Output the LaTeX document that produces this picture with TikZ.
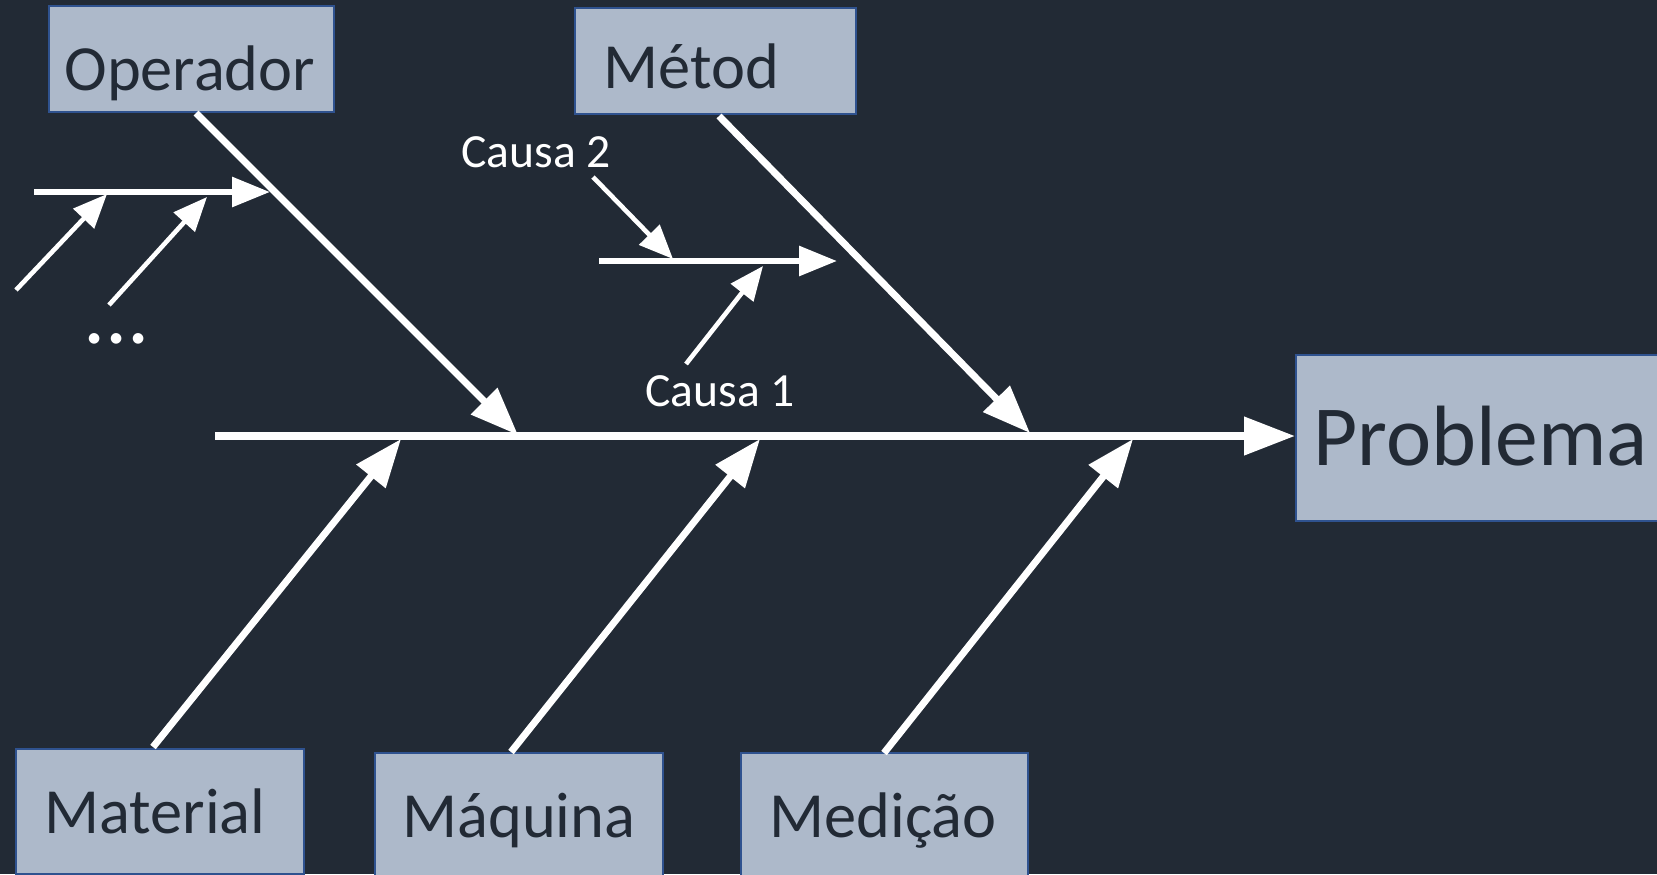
\documentclass[tikz,border=0pt]{standalone}
\usepackage{fontspec}
\setmainfont{Carlito}
\usetikzlibrary{arrows.meta}
\definecolor{bgc}{HTML}{222A35}
\definecolor{boxfill}{HTML}{ADB9CA}
\definecolor{boxline}{HTML}{2F528F}
\definecolor{txtc}{HTML}{222A35}
\tikzset{
  catbox/.style={draw=boxline, fill=boxfill, line width=1pt, inner sep=0pt, anchor=north west},
  cattext/.style={inner sep=0pt, anchor=base west, text=txtc, font=\fontsize{32.2}{38}\selectfont},
  probtext/.style={inner sep=0pt, anchor=base west, text=txtc, font=\fontsize{42.8}{50}\selectfont},
  causetext/.style={inner sep=0pt, anchor=base west, text=white, font=\fontsize{23.8}{28}\selectfont},
  spinearr/.style={white, line width=3.75pt, -{Triangle[length=25.5pt,width=18.5pt]}},
  mainarr/.style={white, line width=3.5pt, -{Triangle[length=24pt,width=18pt]}},
  subarr/.style={white, line width=3pt, -{Triangle[length=19pt,width=14.5pt]}},
  causearr/.style={white, line width=2.3pt, -{Triangle[length=17pt,width=14pt]}}
}
\begin{document}
\begin{tikzpicture}[x=0.5pt,y=-0.5pt]
\useasboundingbox (0,0) rectangle (1657,874);
\clip (0,0) rectangle (1657,874);
\fill[bgc] (0,0) rectangle (1657,874);

% boxes
\node[catbox, minimum width=142.5pt, minimum height=53pt] (op) at (48,5) {};
\node[catbox, minimum width=140.5pt, minimum height=53pt] (me) at (574,7) {};
\node[catbox, minimum width=202.5pt, minimum height=83pt] (pb) at (1295,354) {};
\node[catbox, minimum width=144pt, minimum height=62.5pt] (ma) at (15,748) {};
\node[catbox, minimum width=144pt, minimum height=74pt] (mq) at (374,752) {};
\node[catbox, minimum width=143.5pt, minimum height=74pt] (md) at (740,752) {};

% box texts
\node[cattext] (opT) at (64,90) {Operador};
\node[cattext] (meT) at (603,88) {Métod};
\node[probtext] (pbT) at (1313,465) {Problema};
\node[cattext] (maT) at (44,833) {Material};
\node[cattext] (mqT) at (402,837) {Máquina};
\node[cattext] (mdT) at (769,837) {Medição};

% cause texts
\node[causetext] (c2T) at (461,167) {Causa 2};
\node[causetext] (c1T) at (645,406) {Causa 1};
\node[inner sep=0pt, anchor=base west, text=white, font=\fontsize{44}{50}\selectfont] (dots) at (83,343) {...};

% coordinates
\coordinate (spS) at (215,436);
\coordinate (spE) at (1295,436);
\coordinate (opS) at (196,113);
\coordinate (opE) at (518,435);
\coordinate (meS) at (719,116);
\coordinate (meE) at (1030,433);
\coordinate (maS) at (153,747);
\coordinate (maE) at (401,439);
\coordinate (mqS) at (511,752);
\coordinate (mqE) at (760,439);
\coordinate (mdS) at (884,753);
\coordinate (mdE) at (1133,439);

\coordinate (osS) at (34,192);
\coordinate (osE) at (270,192);
\coordinate (oa1S) at (16,290);
\coordinate (oa1E) at (107,194);
\coordinate (oa2S) at (109,305);
\coordinate (oa2E) at (207,197);

\coordinate (msS) at (599,261);
\coordinate (msE) at (837,261);
\coordinate (c2S) at (593,177);
\coordinate (c2E) at (673,259);
\coordinate (c1S) at (686,364);
\coordinate (c1E) at (763,266);

% spine
\draw[spinearr] (spS) -- (spE);
% main branches
\draw[mainarr] (opS) -- (opE);
\draw[mainarr] (meS) -- (meE);
\draw[mainarr] (maS) -- (maE);
\draw[mainarr] (mqS) -- (mqE);
\draw[mainarr] (mdS) -- (mdE);
% sub branches
\draw[subarr] (osS) -- (osE);
\draw[subarr] (msS) -- (msE);
% causes
\draw[causearr] (oa1S) -- (oa1E);
\draw[causearr] (oa2S) -- (oa2E);
\draw[causearr] (c2S) -- (c2E);
\draw[causearr] (c1S) -- (c1E);
\end{tikzpicture}
\end{document}
